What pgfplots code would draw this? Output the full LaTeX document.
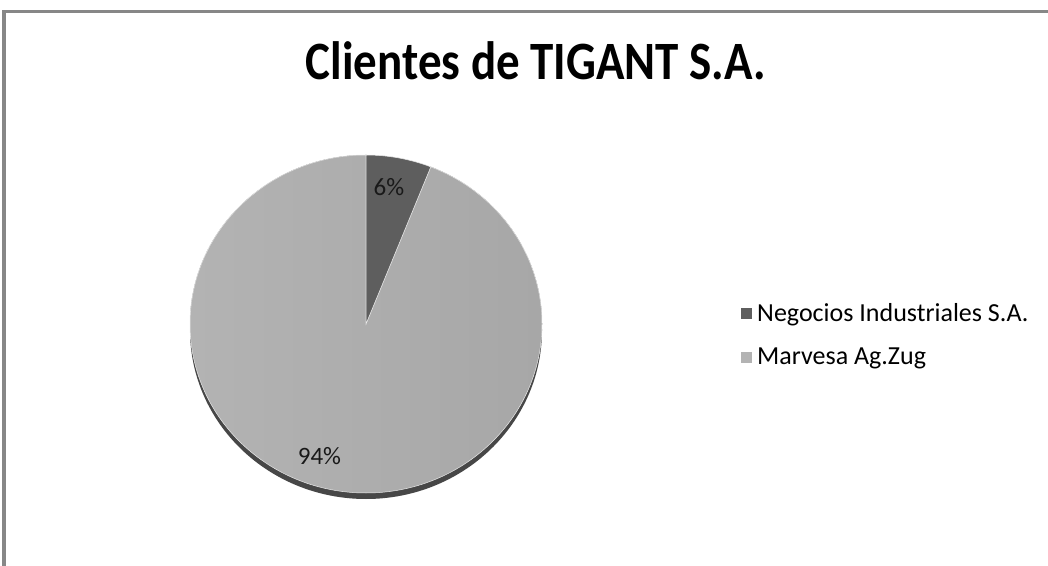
\documentclass[border=0pt]{standalone}
\usepackage{pgfplots}
\pgfplotsset{compat=1.18}
\usepackage{pgfplotstable}
\usepackage{fontspec}
\setmainfont{Carlito}

\definecolor{sliceA}{HTML}{5E5E5E}
\definecolor{sliceBl}{HTML}{B3B3B3}
\definecolor{sliceBr}{HTML}{A7A7A7}
\definecolor{shadowc}{HTML}{474747}
\definecolor{framec}{HTML}{878787}

% client shares in percent
\pgfplotstableread{
client share
Negocios 6
Marvesa 94
}\piedata

\begin{document}
\begin{tikzpicture}
\path[use as bounding box] (0,0) rectangle (1048pt,565pt);
\fill[white] (0,0) rectangle (1048pt,565pt);
\begin{axis}[at={(0,0)}, anchor=south west, x=1pt, y=1pt,
  xmin=0, xmax=1048, ymin=0, ymax=565, hide axis, clip=false,
  legend style={at={(axis cs:741,230)}, anchor=west, draw=none, fill=none,
    font=\fontsize{26}{30}\selectfont, row sep=21pt, column sep=3pt, inner sep=0pt},
  legend cell align=left,
  legend image code/.code={\fill[#1] (0pt,-5.5pt) rectangle (11pt,5.5pt);}]
\pgfplotstablegetelem{0}{share}\of\piedata \let\va\pgfplotsretval
\pgfplotstablegetelem{1}{share}\of\piedata \let\vb\pgfplotsretval
\pgfmathsetmacro{\aend}{90-3.6*\va}
\pgfmathsetmacro{\bend}{90+3.6*\vb}
\addlegendimage{fill=sliceA, draw=none}
\addlegendentry{Negocios Industriales S.A.}
\addlegendimage{fill=sliceBl, draw=none}
\addlegendentry{Marvesa Ag.Zug}
% shadow under the pie
\fill[shadowc] (axis cs:366,235) ellipse [x radius=176, y radius=169];
% slices
\fill[left color=sliceBl, right color=sliceBr, draw=white!85!gray, line width=0.5pt]
  (axis cs:366,241) -- (axis cs:366,410) arc[start angle=90, end angle=\bend, x radius=176, y radius=169] -- cycle;
\fill[sliceA, draw=white!85!gray, line width=0.5pt]
  (axis cs:366,241) -- (axis cs:366,410) arc[start angle=90, end angle=\aend, x radius=176, y radius=169] -- cycle;
% data labels
\node[font=\fontsize{25}{29}\selectfont, text=black!90] at (axis cs:389,378) {\va\%};
\node[font=\fontsize{25}{29}\selectfont, text=black!90] at (axis cs:319.5,109) {\vb\%};
% title and frame
\node[anchor=base, font=\fontsize{54}{60}\selectfont\bfseries] at (axis cs:536,485) {\scalebox{0.87}[1]{Clientes de TIGANT S.A.}};
\draw[framec, line width=3pt] (axis cs:4,-20) -- (axis cs:4,553) -- (axis cs:1070,553);
\end{axis}
\end{tikzpicture}
\end{document}
